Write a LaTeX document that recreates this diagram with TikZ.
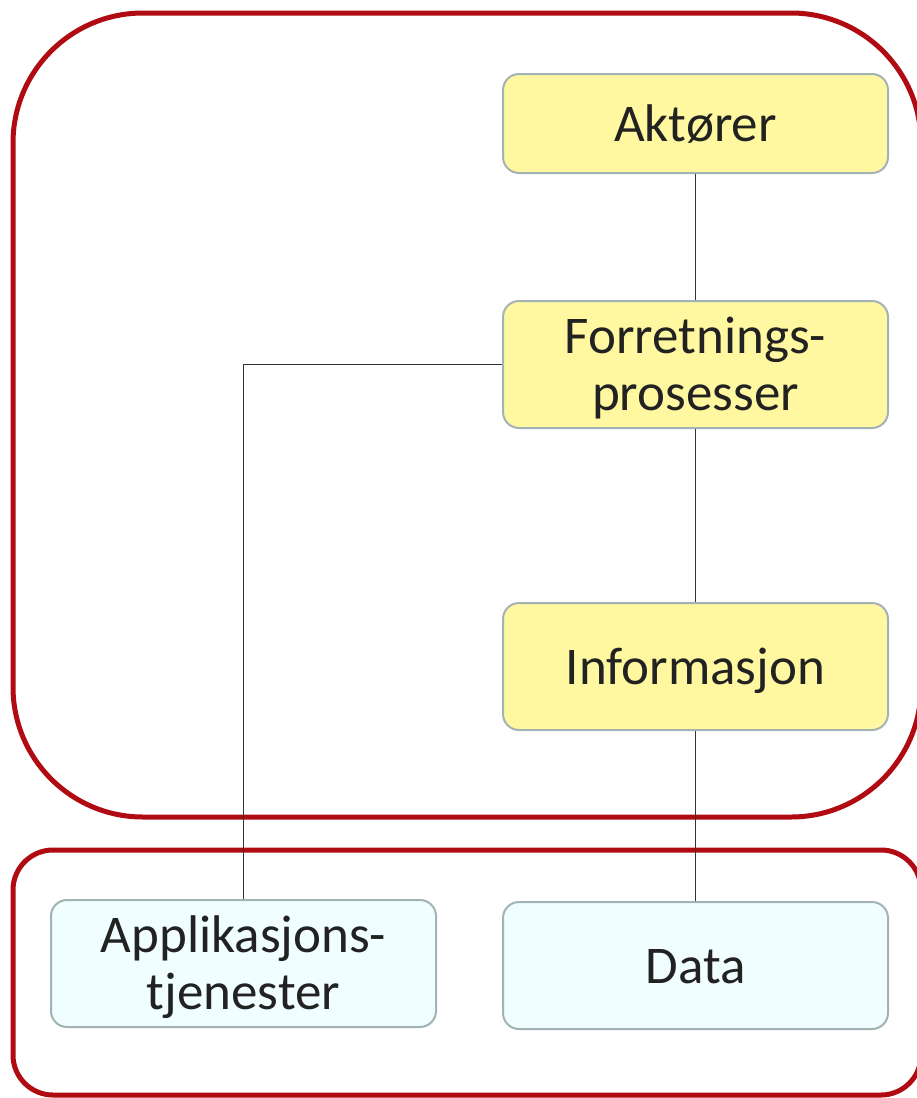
\documentclass[tikz,border=0pt]{standalone}
\usepackage{fontspec}
\setmainfont{Carlito}
\definecolor{frame}{HTML}{B00A12}
\definecolor{boxyellow}{HTML}{FFF8A0}
\definecolor{boxcyan}{HTML}{F0FEFF}
\definecolor{boxline}{HTML}{A3B2B4}
\definecolor{txt}{HTML}{222222}
\definecolor{conn}{HTML}{333333}
\tikzset{
  group/.style={draw=frame, line width=5pt},
  card/.style={draw=boxline, line width=2pt, rounded corners=16pt, minimum width=385pt, align=center, text=txt, font=\fontsize{53}{57}\selectfont, inner sep=0pt, text depth=0pt},
  oneline/.style={text height=35pt},
  twoline/.style={text height=92pt},
  ybox/.style={card, fill=boxyellow},
  cbox/.style={card, fill=boxcyan},
  link/.style={draw=conn, line width=1pt}
}
\begin{document}
\begin{tikzpicture}[x=1pt,y=-1pt]
\useasboundingbox (0,0) rectangle (916,1098);
\draw[group, rounded corners=130pt] (13,13) rectangle (921,817);
\draw[group, rounded corners=40pt] (13,850) rectangle (921,1095);
\node[ybox, oneline, minimum height=99pt] (akt) at (695.5,123.5) {Aktører};
\node[ybox, twoline, minimum height=127pt] (forr) at (695.5,364.5) {Forretnings-\\prosesser};
\node[ybox, oneline, minimum height=127pt] (info) at (695.5,666.5) {Informasjon};
\node[cbox, twoline, minimum height=127pt] (app) at (243.5,963.5) {Applikasjons-\\tjenester};
\node[cbox, oneline, minimum height=127pt] (data) at (695.5,965.5) {Data};
\draw[link] (akt) -- (forr);
\draw[link] (forr) -- (info);
\draw[link] (info) -- (data);
\draw[link] (forr.west) -| (app.north);
\end{tikzpicture}
\end{document}
